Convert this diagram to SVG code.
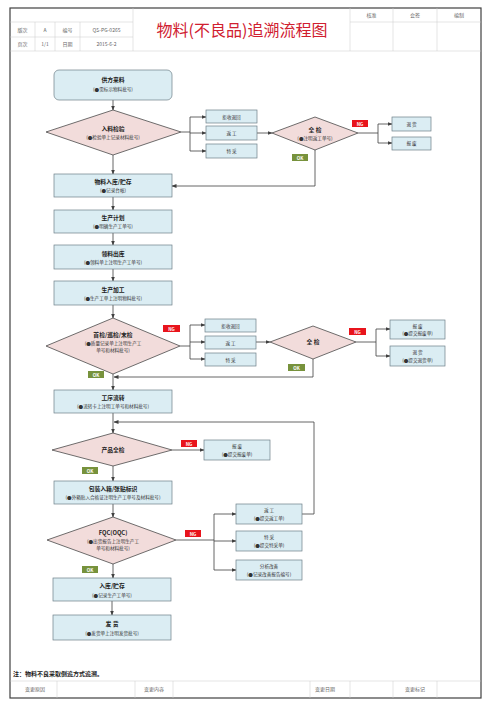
<svg xmlns="http://www.w3.org/2000/svg" width="500" height="708" viewBox="0 0 500 708">
<style>
text{font-family:"Noto Sans CJK SC","Liberation Sans",sans-serif;text-anchor:middle}
.hd{font-size:5px;fill:#666}
.tt{font-size:16px;fill:#d02030}
.box{fill:#dbedf3;stroke:#6d7f88;stroke-width:0.7}
.dia{fill:#f2dcdb;stroke:#4a4a4a;stroke-width:0.8}
.t{font-size:5.8px;font-weight:bold;fill:#222}
.s{font-size:4.6px;fill:#333}
.ln{fill:none;stroke:#404040;stroke-width:0.8}
.grid{fill:none;stroke:#c8c8c8;stroke-width:0.5}
.ng{fill:#e8141c}
.ok{fill:#77923c}
.lb{font-size:4.5px;fill:#fff;font-weight:bold}
</style>
<defs>
<marker id="a" markerWidth="5" markerHeight="4" refX="4.5" refY="2" orient="auto" markerUnits="userSpaceOnUse">
<path d="M0,0 L5,2 L0,4 Z" fill="#404040"/>
</marker>
</defs>
<rect width="500" height="708" fill="#fff"/>
<g id="frame">
<rect x="10" y="8" width="471" height="690" fill="none" stroke="#404040" stroke-width="1.2"/>
<path class="grid" d="M10,22 H133 M350,22 H481 M10,37 H133 M10,51 H481 M35,22 V51 M55,22 V51 M80,22 V51 M133,8 V51 M350,8 V51 M393,8 V51 M437,8 V51"/>
<text class="hd" x="22.5" y="32">版次</text>
<text class="hd" x="45" y="32">A</text>
<text class="hd" x="67.5" y="32">编号</text>
<text class="hd" x="106.5" y="32">QS-PG-0265</text>
<text class="hd" x="22.5" y="46">页次</text>
<text class="hd" x="45" y="46">1/1</text>
<text class="hd" x="67.5" y="46">日期</text>
<text class="hd" x="106.5" y="46">2015-6-2</text>
<text class="tt" x="242" y="36">物料(不良品)追溯流程图</text>
<text class="hd" x="371.5" y="17">核准</text>
<text class="hd" x="415" y="17">会签</text>
<text class="hd" x="459" y="17">编制</text>
<text x="13" y="676" style="font-size:6px;font-weight:bold;fill:#222;text-anchor:start">注：物料不良采取倒追方式追溯。</text>
<path class="grid" d="M10,681 H481 M57,681 V698 M135,681 V698 M173,681 V698 M310,681 V698 M350,681 V698 M393,681 V698 M437,681 V698"/>
<text class="hd" x="35" y="691">变更原因</text>
<text class="hd" x="154" y="691">变更内容</text>
<text class="hd" x="325" y="691">变更日期</text>
<text class="hd" x="415" y="691">变更标记</text>
</g>
<g id="connectors">
<path class="ln" marker-end="url(#a)" d="M113,100 V110"/>
<path class="ln" marker-end="url(#a)" d="M113,155 V174"/>
<path class="ln" d="M181,132 H190 M190,117 V151"/>
<path class="ln" marker-end="url(#a)" d="M190,117 H206"/>
<path class="ln" marker-end="url(#a)" d="M190,133 H206"/>
<path class="ln" marker-end="url(#a)" d="M190,151 H206"/>
<path class="ln" marker-end="url(#a)" d="M257,133 H272"/>
<path class="ln" d="M358,133 H378 M378,124 V143"/>
<path class="ln" marker-end="url(#a)" d="M378,124 H392"/>
<path class="ln" marker-end="url(#a)" d="M378,143 H392"/>
<path class="ln" marker-end="url(#a)" d="M315,150 V186 H172"/>
<path class="ln" marker-end="url(#a)" d="M113,197 V210"/>
<path class="ln" marker-end="url(#a)" d="M113,233 V245"/>
<path class="ln" marker-end="url(#a)" d="M113,269 V281"/>
<path class="ln" marker-end="url(#a)" d="M113,305 V318"/>
<path class="ln" d="M180,346 H190 M190,325 V359"/>
<path class="ln" marker-end="url(#a)" d="M190,325 H205"/>
<path class="ln" marker-end="url(#a)" d="M190,342 H205"/>
<path class="ln" marker-end="url(#a)" d="M190,359 H205"/>
<path class="ln" marker-end="url(#a)" d="M256,342 H270"/>
<path class="ln" d="M356,342 H376 M376,329 V356"/>
<path class="ln" marker-end="url(#a)" d="M376,329 H390"/>
<path class="ln" marker-end="url(#a)" d="M376,356 H390"/>
<path class="ln" marker-end="url(#a)" d="M313,359 V377 H114"/>
<path class="ln" marker-end="url(#a)" d="M113,374 V390"/>
<path class="ln" marker-end="url(#a)" d="M113,413 V433"/>
<path class="ln" marker-end="url(#a)" d="M302,514 H314 V422 H114"/>
<path class="ln" marker-end="url(#a)" d="M172,450 H204"/>
<path class="ln" marker-end="url(#a)" d="M113,466 V481"/>
<path class="ln" marker-end="url(#a)" d="M113,504 V517"/>
<path class="ln" d="M176,540 H214 M214,514 V570"/>
<path class="ln" marker-end="url(#a)" d="M214,514 H236"/>
<path class="ln" marker-end="url(#a)" d="M214,541 H236"/>
<path class="ln" marker-end="url(#a)" d="M214,570 H236"/>
<path class="ln" marker-end="url(#a)" d="M113,564 V578"/>
<path class="ln" marker-end="url(#a)" d="M112,601 V615"/>
</g>
<g id="labels">
<rect class="ng" x="352" y="120" width="16" height="7"/><text class="lb" x="360" y="125.6">NG</text>
<rect class="ok" x="292" y="154" width="16" height="7"/><text class="lb" x="300" y="159.6">OK</text>
<rect class="ng" x="163" y="325" width="17" height="7"/><text class="lb" x="171.5" y="330.6">NG</text>
<rect class="ng" x="349" y="328" width="17" height="7"/><text class="lb" x="357.5" y="333.6">NG</text>
<rect class="ok" x="288" y="364" width="17" height="7"/><text class="lb" x="296.5" y="369.6">OK</text>
<rect class="ok" x="88" y="371" width="16" height="7"/><text class="lb" x="96" y="376.6">OK</text>
<rect class="ng" x="181" y="440" width="16" height="7"/><text class="lb" x="189" y="445.6">NG</text>
<rect class="ok" x="82" y="467" width="16" height="7"/><text class="lb" x="90" y="472.6">OK</text>
<rect class="ng" x="185" y="530" width="16" height="7"/><text class="lb" x="193" y="535.6">NG</text>
<rect class="ok" x="82" y="566" width="16" height="7"/><text class="lb" x="90" y="571.6">OK</text>
</g>
<g id="n1"><rect class="box" x="54" y="70" width="118" height="30" rx="5"/><text class="t" x="113" y="82">供方来料</text><text class="s" x="113" y="91">(●需标示物料批号)</text></g>
<g id="n2"><polygon class="dia" points="113,110 181,132 113,155 46,132"/><text class="t" x="113" y="131">入料检验</text><text class="s" x="113" y="139">(●检验单上记录材料批号)</text></g>
<g id="n3"><rect class="box" x="206" y="110" width="51" height="13"/><text class="s" x="231.5" y="118.5">拒收退回</text></g>
<g id="n4"><rect class="box" x="206" y="126" width="51" height="14"/><text class="s" x="231.5" y="134.8">返 工</text></g>
<g id="n5"><rect class="box" x="206" y="144" width="51" height="14"/><text class="s" x="231.5" y="152.8">特 采</text></g>
<g id="n6"><polygon class="dia" points="315,117 358,133 315,150 272,133"/><text class="t" x="315" y="132">全 检</text><text class="s" x="315" y="140">(●注明返工单号)</text></g>
<g id="n7"><rect class="box" x="392" y="117" width="39" height="14"/><text class="s" x="411.5" y="125.8">退 货</text></g>
<g id="n8"><rect class="box" x="392" y="137" width="39" height="13"/><text class="s" x="411.5" y="145.3">报 废</text></g>
<g id="n9"><rect class="box" x="54" y="174" width="118" height="23"/><text class="t" x="113" y="184">物料入库/贮存</text><text class="s" x="113" y="192">(●记录台帐)</text></g>
<g id="n10"><rect class="box" x="54" y="210" width="118" height="23"/><text class="t" x="113" y="220">生产计划</text><text class="s" x="113" y="228">(●明确生产工单号)</text></g>
<g id="n11"><rect class="box" x="54" y="245" width="118" height="24"/><text class="t" x="113" y="255.5">领料出库</text><text class="s" x="113" y="264">(●领料单上注明生产工单号)</text></g>
<g id="n12"><rect class="box" x="54" y="281" width="118" height="24"/><text class="t" x="113" y="291.5">生产加工</text><text class="s" x="113" y="300">(●生产工单上注明物料批号)</text></g>
<g id="n13"><polygon class="dia" points="113,318 180,346 113,374 46,346"/><text class="t" x="113" y="337">首检/巡检/末检</text><text class="s" x="113" y="345">(●质量记录单上注明生产工</text><text class="s" x="113" y="352">单号和材料批号)</text></g>
<g id="n14"><rect class="box" x="205" y="319" width="51" height="13"/><text class="s" x="230.5" y="327.5">拒收退回</text></g>
<g id="n15"><rect class="box" x="205" y="336" width="51" height="13"/><text class="s" x="230.5" y="344.5">返 工</text></g>
<g id="n16"><rect class="box" x="205" y="353" width="51" height="13"/><text class="s" x="230.5" y="361.5">特 采</text></g>
<g id="n17"><polygon class="dia" points="313,326 356,342 313,359 270,342"/><text class="t" x="313" y="344">全 检</text></g>
<g id="n18"><rect class="box" x="390" y="320" width="55" height="19"/><text class="s" x="417.5" y="327.5">报 废</text><text class="s" x="417.5" y="335">(●提交报废单)</text></g>
<g id="n19"><rect class="box" x="390" y="346" width="55" height="20"/><text class="s" x="417.5" y="354">退 货</text><text class="s" x="417.5" y="362">(●提交退货单)</text></g>
<g id="n20"><rect class="box" x="54" y="390" width="118" height="23"/><text class="t" x="113" y="400">工序流转</text><text class="s" x="113" y="408">(●流转卡上注明工单号和材料批号)</text></g>
<g id="n21"><polygon class="dia" points="113,433 172,450 113,466 52,450"/><text class="t" x="113" y="452">产品全检</text></g>
<g id="n22"><rect class="box" x="204" y="440" width="66" height="20"/><text class="s" x="237" y="448">报 废</text><text class="s" x="237" y="456">(●提交报废单)</text></g>
<g id="n23"><rect class="box" x="54" y="481" width="118" height="23"/><text class="t" x="113" y="491">包装入箱/张贴标识</text><text class="s" x="113" y="499">(●外箱贴入合格证注明生产工单号及材料批号)</text></g>
<g id="n24"><polygon class="dia" points="113,517 176,540 113,564 47,540"/><text class="t" x="113" y="535">FQC(OQC)</text><text class="s" x="113" y="543">(●出货报告上注明生产工</text><text class="s" x="113" y="550">单号和材料批号)</text></g>
<g id="n25"><rect class="box" x="236" y="504" width="66" height="20"/><text class="s" x="269" y="512">返 工</text><text class="s" x="269" y="520">(●提交返工单)</text></g>
<g id="n26"><rect class="box" x="236" y="531" width="66" height="20"/><text class="s" x="269" y="539">特 采</text><text class="s" x="269" y="547">(●提交特采单)</text></g>
<g id="n27"><rect class="box" x="236" y="560" width="66" height="20"/><text class="s" x="269" y="568">分析改善</text><text class="s" x="269" y="576">(●记录改善报告编号)</text></g>
<g id="n28"><rect class="box" x="53" y="578" width="118" height="23"/><text class="t" x="112" y="588">入库/贮存</text><text class="s" x="112" y="596.5">(●记录生产工单号)</text></g>
<g id="n29"><rect class="box" x="53" y="615" width="118" height="25"/><text class="t" x="112" y="625.5">发 货</text><text class="s" x="112" y="634.5">(●发货单上注明发货批号)</text></g>
</svg>
